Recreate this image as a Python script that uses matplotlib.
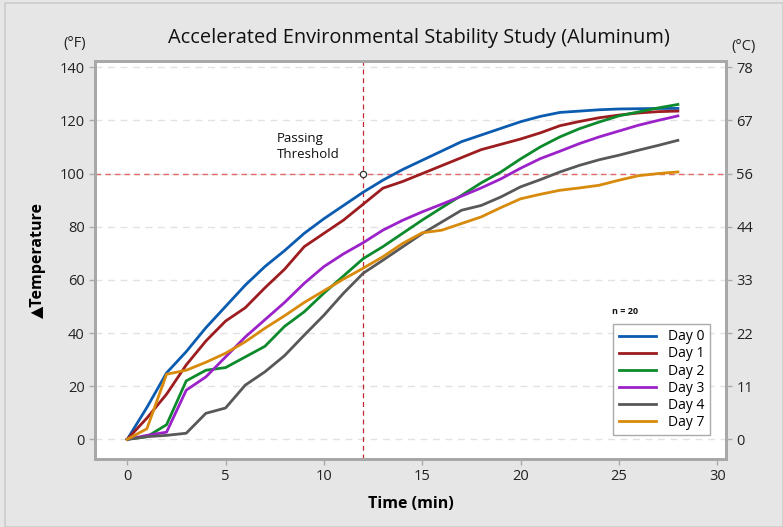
import matplotlib.pyplot as plt
from matplotlib.patches import Rectangle

plt.rcParams['font.family'] = ['Open Sans', 'DejaVu Sans']

minutes = list(range(0, 29))

day0 = [0, 12, 25, 33, 42, 50, 58, 65, 71, 77.5, 83, 88, 93, 97.5, 101.5, 105,
        108.5, 112, 114.5, 117, 119.5, 121.5, 123, 123.5, 124, 124.3, 124.4, 124.5, 124.5]
day1 = [0, 8, 17, 28, 37, 44.5, 49.5, 57, 64, 72.5, 77.5, 82.5, 88.5, 94.5, 97, 100,
        103, 106, 109, 111, 113, 115.3, 118, 119.6, 121, 122, 122.8, 123.3, 123.5]
day2 = [0, 1, 5.5, 22, 26, 27, 31, 35, 42.5, 48, 55, 61.5, 68, 72.5, 77.5, 82.5,
        87.2, 91.8, 96.5, 100.6, 105.5, 110, 113.8, 116.9, 119.4, 121.7, 123.2, 124.7, 126]
day3 = [0, 1.5, 2.7, 18.5, 23.5, 31, 38.5, 45, 51.5, 58.7, 65, 69.8, 74, 78.7, 82.4, 85.6,
        88.5, 91.5, 94.6, 98, 102, 105.6, 108.4, 111.3, 113.8, 116, 118.2, 120, 121.7]
day4 = [0, 1, 1.5, 2.3, 9.8, 11.8, 20.4, 25.4, 31.5, 39.2, 46.7, 55, 62.5, 67.4, 72.4, 77.4,
        81.8, 86.2, 88, 91.2, 95, 97.7, 100.6, 103.1, 105.2, 106.9, 108.8, 110.6, 112.5]
day7 = [0, 4, 24.5, 26, 29, 32.4, 36.7, 41.8, 46.5, 51.5, 55.9, 60.3, 64.4, 68.7, 73.7, 77.7,
        78.7, 81.2, 83.7, 87.2, 90.5, 92.2, 93.7, 94.6, 95.6, 97.5, 99.2, 100, 100.6]

series = [("Day 0", day0, "#0b5cb0"),
          ("Day 1", day1, "#9c1c1f"),
          ("Day 2", day2, "#0d8a2c"),
          ("Day 3", day3, "#9b22c8"),
          ("Day 4", day4, "#585858"),
          ("Day 7", day7, "#d88a0c")]

f_ticks = [0, 20, 40, 60, 80, 100, 120, 140]
c_labels = ["0", "11", "22", "33", "44", "56", "67", "78"]
x_ticks = [0, 5, 10, 15, 20, 25, 30]

threshold_time = 12
threshold_temp = 100

fig = plt.figure(figsize=(7.83, 5.27), dpi=100, facecolor="#e6e6e6")
fig.patches.append(Rectangle((0.006, 0.0), 0.994, 0.994, transform=fig.transFigure,
                             fill=False, edgecolor="#cccccc", lw=1.2))
ax = fig.add_axes([0.1213, 0.129, 0.806, 0.755])
ax.set_facecolor("white")

for y in f_ticks:
    ax.axhline(y, color="#e2e2e2", lw=1, ls=(0, (5, 4)), zorder=0)

ax.axhline(threshold_temp, color="#e06868", lw=1, ls=(0, (4, 3)), zorder=1)
ax.axvline(threshold_time, color="#c02a35", lw=0.9, ls=(0, (4, 3)), zorder=1)

handles = []
for name, vals, col in series:
    ln, = ax.plot(minutes, vals, color=col, lw=2, label=name, zorder=3)
    handles.append(ln)

ax.plot([threshold_time], [threshold_temp], marker="o", ms=4.5, mfc="white",
        mec="#333333", mew=0.9, zorder=5)
ax.text(7.6, 115.5, "Passing\nThreshold", fontsize=9.5, va="top", ha="left",
        linespacing=1.3, color="#111111")

ax.set_xlim(-1.64, 30.45)
ax.set_ylim(-7.4, 142.3)
ax.set_xticks(x_ticks)
ax.set_yticks(f_ticks)
ax.tick_params(labelsize=10.5, colors="#222222", length=4, width=1)
ax.tick_params(axis="both", color="#aaaaaa")

for s in ax.spines.values():
    s.set_color("#a8a8a8")
    s.set_linewidth(2)

ax2 = ax.twinx()
ax2.set_ylim(ax.get_ylim())
ax2.set_yticks(f_ticks)
ax2.set_yticklabels(c_labels)
ax2.tick_params(labelsize=10.5, colors="#222222", length=4, width=1)
ax2.tick_params(axis="y", color="#aaaaaa")
for s in ax2.spines.values():
    s.set_color("#a8a8a8")
    s.set_linewidth(2)

ax.set_xlabel("Time (min)", fontsize=11.5, fontweight="bold", labelpad=8)
ax.set_ylabel("\u25b2Temperature", fontsize=11.5, fontweight="bold", labelpad=10)

fig.text(0.535, 0.928, "Accelerated Environmental Stability Study (Aluminum)",
         ha="center", va="center", fontsize=14.4, color="#111111")
fig.text(0.096, 0.918, "(\u00b0F)", ha="center", va="center", fontsize=10.5, color="#222222")
fig.text(0.950, 0.912, "(\u00b0C)", ha="center", va="center", fontsize=10.5, color="#222222")

leg = ax2.legend(handles, [s[0] for s in series], loc="lower right",
                 bbox_to_anchor=(0.985, 0.042), fontsize=10,
                 handlelength=2.7, handletextpad=0.8, labelspacing=0.15,
                 borderpad=0.4, fancybox=False, framealpha=1)
leg.get_frame().set_edgecolor("#aaaaaa")
leg.get_frame().set_linewidth(1)
ax2.text(0.82, 0.37, "n = 20", transform=ax2.transAxes, fontsize=6.5,
         fontweight="bold", ha="left", va="center", color="#111111")

fig.savefig("out.png", dpi=100, facecolor=fig.get_facecolor())
